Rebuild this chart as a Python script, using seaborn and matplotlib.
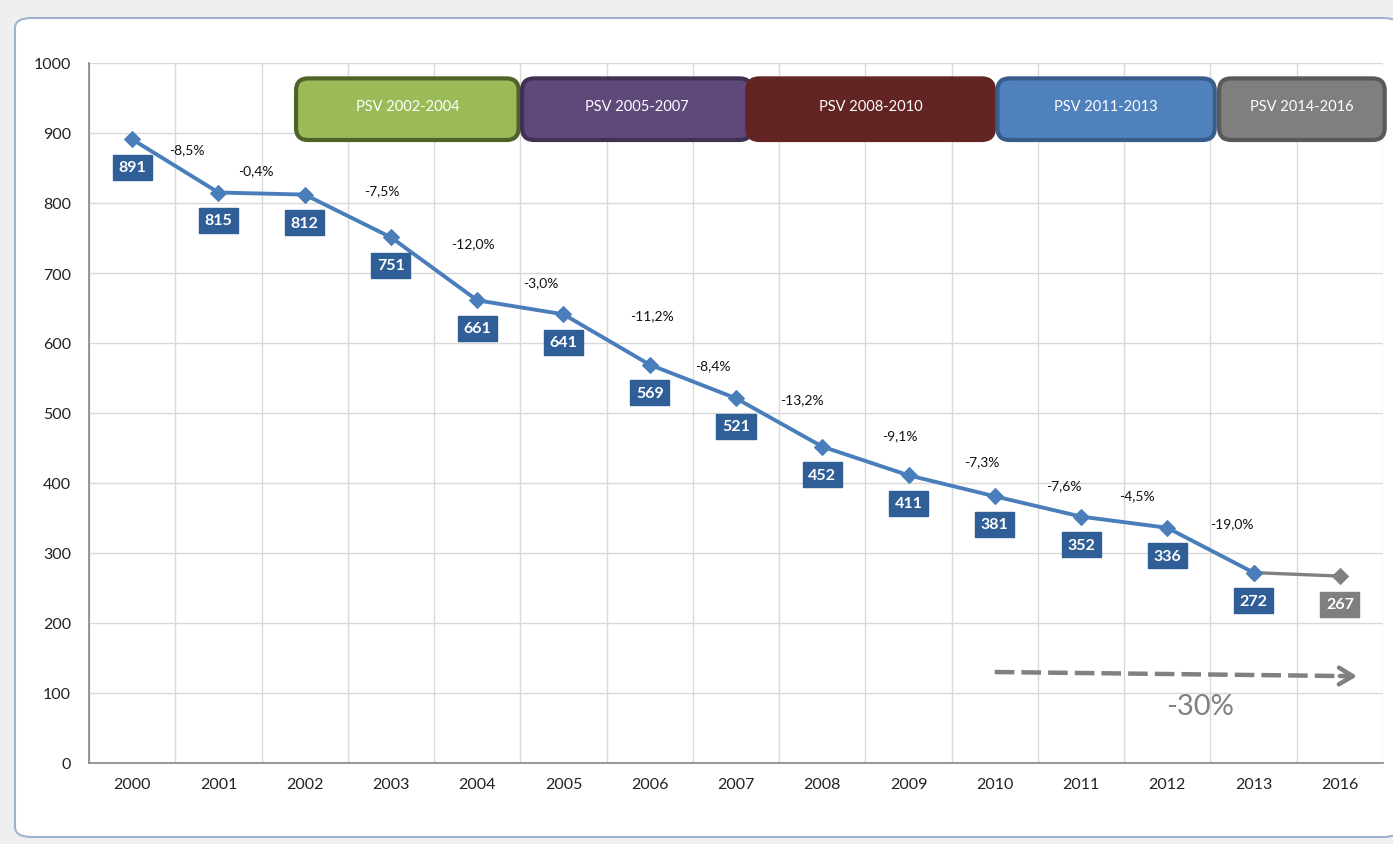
import numpy as np
import pandas as pd
import seaborn as sns
import matplotlib.pyplot as plt
from matplotlib.patches import FancyBboxPatch

# data
years = ['2000', '2001', '2002', '2003', '2004', '2005', '2006', '2007',
         '2008', '2009', '2010', '2011', '2012', '2013', '2016']
values = [891, 815, 812, 751, 661, 641, 569, 521, 452, 411, 381, 352, 336, 272, 267]
pct_labels = ['-8,5%', '-0,4%', '-7,5%', '-12,0%', '-3,0%', '-11,2%', '-8,4%',
              '-13,2%', '-9,1%', '-7,3%', '-7,6%', '-4,5%', '-19,0%']
psv_labels = ['PSV 2002-2004', 'PSV 2005-2007', 'PSV 2008-2010',
              'PSV 2011-2013', 'PSV 2014-2016']
total_label = '-30%'

# layout / styling (not data)
pct_pos = [(0.63, 877), (1.44, 847), (2.90, 819), (3.95, 743), (4.74, 687),
           (6.03, 640), (6.73, 569), (7.77, 520), (8.90, 469), (9.85, 431),
           (10.80, 397), (11.65, 383), (12.75, 343)]
psv_spans = [(1.90, 4.48), (4.52, 7.18), (7.13, 9.99), (10.03, 12.55), (12.60, 14.52)]
psv_fill = ['#9BBB59', '#5F497A', '#632523', '#4F81BD', '#7F7F7F']
psv_edge = ['#4F6228', '#3F3151', '#632523', '#385D8A', '#595959']
blue = '#4A7EBB'
grey = '#808080'

sns.set_style('white')
plt.rcParams['font.family'] = ['Lato', 'DejaVu Sans']

W, H = 1393, 845
fig = plt.figure(figsize=(W / 100, H / 100), dpi=100)
fig.patch.set_facecolor('#EFEFEF')

# chart frame
frame = FancyBboxPatch((15 / W, 7 / H), (1400 - 15) / W, (826 - 7) / H,
                       boxstyle='round,pad=0,rounding_size=0.012',
                       transform=fig.transFigure, facecolor='white',
                       edgecolor='#9DB3CF', linewidth=1.5, zorder=-5)
fig.patches.append(frame)

ax = fig.add_axes([89 / W, (H - 764) / H, (1383 - 89) / W, (764 - 64) / H])
ax.set_facecolor('none')
ax.set_zorder(2)

df = pd.DataFrame({'pos': np.arange(len(years)), 'value': values, 'year': years})
main = df.iloc[:-1]
tail = df.iloc[-2:]

sns.lineplot(data=tail, x='pos', y='value', ax=ax, color=grey, linewidth=2.4,
             marker='D', markersize=8, markeredgecolor=grey, zorder=3)
sns.lineplot(data=main, x='pos', y='value', ax=ax, color=blue, linewidth=2.8,
             marker='D', markersize=8.5, markeredgecolor=blue, zorder=4)

ax.set_xlim(-0.5, len(years) - 0.5)
ax.set_ylim(0, 1000)
ax.set_yticks(np.arange(0, 1001, 100))
ax.set_xticks(np.arange(-0.5, len(years), 1.0))
ax.set_xticklabels([])
ax.set_xticks(np.arange(len(years)), minor=True)
ax.set_xticklabels(years, minor=True)
ax.tick_params(axis='x', which='minor', length=0, pad=10, labelsize=11.5, labelcolor='#222222')
ax.tick_params(axis='x', which='major', length=7, direction='out', color='#868686', width=1)
ax.tick_params(axis='y', length=7, direction='out', color='#868686', width=1,
               labelsize=11.5, labelcolor='#222222', pad=6)
ax.grid(True, which='major', color='#D9D9D9', linewidth=1)
ax.set_axisbelow(True)
for s in ['top', 'right']:
    ax.spines[s].set_visible(False)
for s in ['left', 'bottom']:
    ax.spines[s].set_color('#868686')
    ax.spines[s].set_linewidth(1.2)
ax.set_xlabel('')
ax.set_ylabel('')

# value boxes under points
for i, v in enumerate(values):
    c = '#7F7F7F' if i == len(values) - 1 else '#2F5F96'
    ax.annotate(str(v), (i, v), xytext=(0, -28), textcoords='offset pixels',
                ha='center', va='center', fontsize=11.5, color='white', fontweight='bold',
                bbox=dict(boxstyle='square,pad=0.35', facecolor=c, edgecolor=c), zorder=5)

# yearly change labels
for lab, (x, y) in zip(pct_labels, pct_pos):
    ax.text(x, y, lab, ha='center', va='center', fontsize=10, color='#111111', zorder=5)

# PSV programme boxes
xs_px = 86.27
ys_px = 0.7
for lab, (x0, x1), fc, ec in zip(psv_labels, psv_spans, psv_fill, psv_edge):
    y0, y1 = 890, 978
    box = FancyBboxPatch((x0, y0), x1 - x0, y1 - y0,
                         boxstyle='round,pad=0,rounding_size=0.14',
                         mutation_aspect=xs_px / ys_px,
                         facecolor=fc, edgecolor=ec, linewidth=3, zorder=6,
                         clip_on=False)
    ax.add_patch(box)
    ax.text((x0 + x1) / 2, (y0 + y1) / 2 + 4, lab, ha='center', va='center',
            fontsize=10.5, color='white', zorder=7)

# overall trend arrow: dashed shaft + open chevron head
ax.plot([10.0, 14.05], [130, 124.2], color=grey, linewidth=3.2,
        linestyle=(0, (4.4, 1.6)), solid_capstyle='butt', zorder=5)
ax.annotate('', xy=(14.2, 124), xytext=(14.0, 124.3),
            arrowprops=dict(arrowstyle='->,head_length=1.0,head_width=0.6',
                            color=grey, linewidth=3.2, shrinkA=0, shrinkB=0),
            zorder=5)
ax.text(12.38, 81, total_label, ha='center', va='center', fontsize=21, color=grey)

fig.savefig('out.png', dpi=100, facecolor=fig.get_facecolor())
